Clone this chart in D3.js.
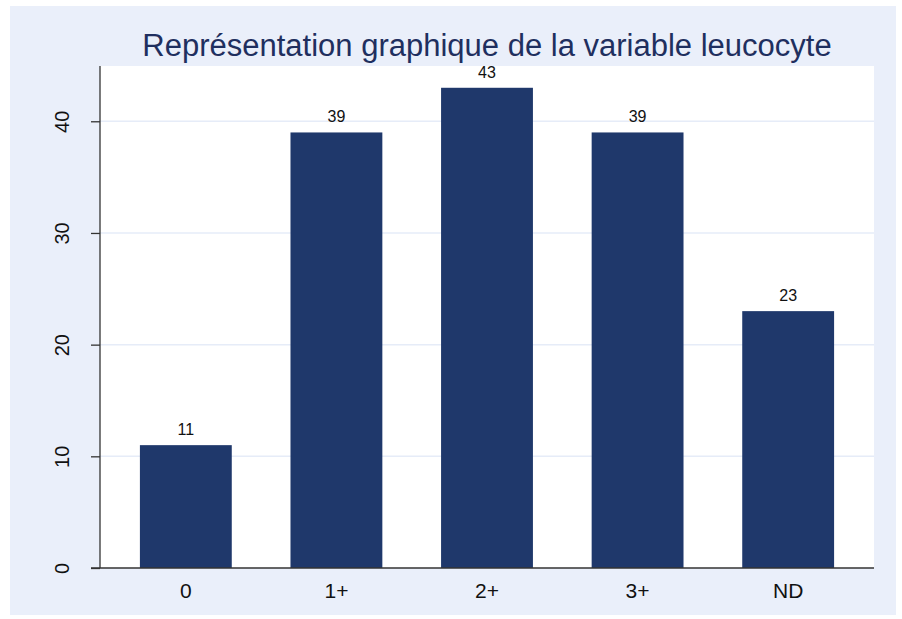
<!DOCTYPE html>
<html>
<head>
<meta charset="utf-8">
<script src="https://cdn.jsdelivr.net/npm/d3@7"></script>
<style>
  body { margin: 0; background: #fff; }
  text { font-family: "Liberation Sans", Arial, sans-serif; }
</style>
</head>
<body>
<div id="chart"></div>
<script>
// chart data
var categories = ['0', '1+', '2+', '3+', 'ND'];
var counts = [11, 39, 43, 39, 23];
var yTicks = [0, 10, 20, 30, 40];
var title = 'Représentation graphique de la variable leucocyte';

var width = 902, height = 619;
var plot = {left: 100, right: 874, top: 66, bottom: 568};

var svg = d3.select('#chart').append('svg')
  .attr('width', width)
  .attr('height', height);

// graph region
svg.append('rect')
  .attr('x', 10).attr('y', 6)
  .attr('width', 886).attr('height', 609)
  .style('fill', '#eaeffa');

// plot region
svg.append('rect')
  .attr('x', plot.left).attr('y', plot.top)
  .attr('width', plot.right - plot.left)
  .attr('height', plot.bottom - plot.top)
  .style('fill', '#fff');

var x = d3.scaleBand()
  .domain(categories)
  .range([plot.left, plot.right])
  .paddingInner(0.39)
  .paddingOuter(0.265);

var y = d3.scaleLinear()
  .domain([0, 44.95])
  .range([plot.bottom, plot.top]);

// grid lines
svg.append('g').selectAll('line')
  .data(yTicks.filter(function(d) { return d > 0; }))
  .enter().append('line')
  .attr('x1', plot.left).attr('x2', plot.right)
  .attr('y1', function(d) { return y(d); })
  .attr('y2', function(d) { return y(d); })
  .style('stroke', '#e6ecf8')
  .style('stroke-width', 1.5);

// bars
svg.append('g').selectAll('rect')
  .data(counts)
  .enter().append('rect')
  .attr('x', function(d, i) { return x(categories[i]); })
  .attr('y', function(d) { return y(d); })
  .attr('width', x.bandwidth())
  .attr('height', function(d) { return y(0) - y(d); })
  .style('fill', '#1f386b');

// bar labels
svg.append('g').selectAll('text')
  .data(counts)
  .enter().append('text')
  .attr('x', function(d, i) { return x(categories[i]) + x.bandwidth() / 2; })
  .attr('y', function(d) { return y(d) - 10; })
  .attr('text-anchor', 'middle')
  .style('font-size', '16px')
  .style('fill', '#111')
  .text(function(d) { return d; });

// y axis
var yAxis = svg.append('g')
  .attr('transform', 'translate(' + plot.left + ',0)')
  .call(d3.axisLeft(y).tickValues(yTicks).tickSize(9).tickPadding(0).tickSizeOuter(0));
yAxis.select('.domain')
  .attr('d', 'M0,' + plot.top + 'V' + plot.bottom)
  .style('stroke', '#333').style('stroke-width', 1.3);
yAxis.selectAll('.tick line').style('stroke', '#333').style('stroke-width', 1.3);
yAxis.selectAll('.tick text')
  .attr('x', null).attr('dy', null)
  .attr('transform', 'translate(-38,0) rotate(-90)')
  .attr('text-anchor', 'middle')
  .attr('dominant-baseline', 'central')
  .style('font-size', '20px')
  .style('fill', '#111');

// x axis
var xAxis = svg.append('g')
  .attr('transform', 'translate(0,' + plot.bottom + ')')
  .call(d3.axisBottom(x).tickSize(0).tickPadding(0).tickSizeOuter(0));
xAxis.select('.domain')
  .attr('d', 'M' + (plot.left - 9) + ',0H' + plot.right)
  .style('stroke', '#333').style('stroke-width', 1.3);
xAxis.selectAll('.tick text')
  .attr('y', 30).attr('dy', null)
  .style('font-size', '21px')
  .style('fill', '#111');

// title
svg.append('text')
  .attr('x', (plot.left + plot.right) / 2)
  .attr('y', 56)
  .attr('text-anchor', 'middle')
  .style('font-size', '31px')
  .style('fill', '#1f2f5f')
  .text(title);
</script>
</body>
</html>
